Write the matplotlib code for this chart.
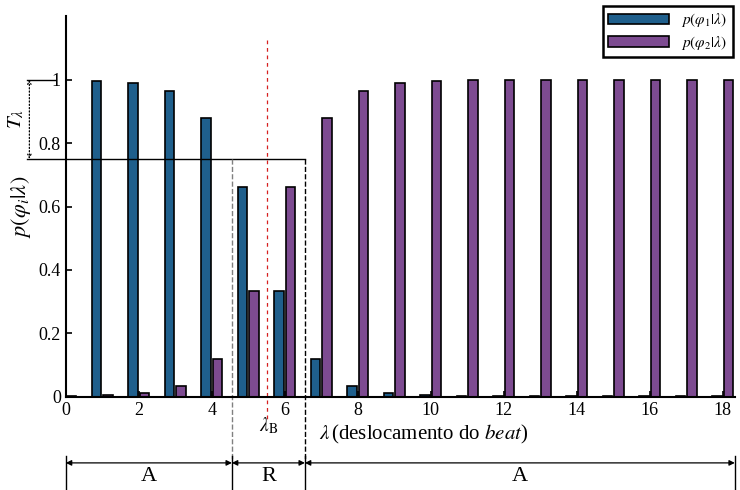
import matplotlib
matplotlib.use('Agg')
import matplotlib.pyplot as plt
import numpy as np

plt.rcParams['font.family'] = ['Liberation Serif', 'DejaVu Serif']
plt.rcParams['mathtext.fontset'] = 'stix'

# probabilities for each beat displacement lambda = 0..18
lambdas = np.arange(0, 19)
p_phi1 = [0.004, 0.995, 0.99, 0.965, 0.88, 0.66, 0.335, 0.12, 0.035, 0.012,
          0.005, 0.003, 0.003, 0.003, 0.003, 0.003, 0.003, 0.003, 0.003]
p_phi2 = [0.004, 0.005, 0.012, 0.035, 0.12, 0.335, 0.66, 0.88, 0.965, 0.99,
          0.995, 0.998, 0.998, 0.998, 0.998, 0.998, 0.998, 0.998, 0.998]

threshold = 0.75
region_edges = [0, 4.55, 6.55, 18.33]
region_labels = ['A', 'R', 'A']
lambda_b = 5.5

blue = '#1f5f8c'
purple = '#7d4b91'

fig = plt.figure(figsize=(7.4, 4.9), dpi=100)
ax = fig.add_axes([0.089, 0.19, 0.904, 0.777])

w = 0.26
ax.bar(lambdas - 0.16, p_phi1, width=w, color=blue, edgecolor='black', linewidth=1.2,
       label=r'$p(\varphi_1|\lambda)$')
ax.bar(lambdas + 0.16, p_phi2, width=w, color=purple, edgecolor='black', linewidth=1.2,
       label=r'$p(\varphi_2|\lambda)$')

ax.set_xlim(0, 18.33)
ax.set_ylim(0, 1.2)
ax.set_xticks(range(0, 19, 2))
ax.set_yticks([0, 0.2, 0.4, 0.6, 0.8, 1])
ax.set_yticklabels(['0', '0.2', '0.4', '0.6', '0.8', '1'])
ax.tick_params(direction='in', labelsize=13, width=1.2, length=4)
for s in ['top', 'right']:
    ax.spines[s].set_visible(False)
ax.spines['left'].set_linewidth(1.5)
ax.spines['bottom'].set_linewidth(1.5)

ax.set_ylabel(r'$p(\varphi_i|\lambda)$', fontsize=16, labelpad=4)
ax.text(9.8, -0.12, r'$\lambda\,$(deslocamento do $\it{beat}$)', fontsize=15,
        ha='center', va='center')

# threshold annotation
ax.plot([-1.07, region_edges[2]], [threshold, threshold], color='black', lw=1, clip_on=False)
ax.plot([-1.07, -0.3], [1, 1], color='black', lw=1, clip_on=False)
ax.annotate('', xy=(-1.0, threshold), xytext=(-1.0, 1), annotation_clip=False,
            arrowprops=dict(arrowstyle='<->', linestyle=':', lw=0.9, color='black',
                            shrinkA=0, shrinkB=0, mutation_scale=6))
ax.text(-1.35, 0.875, r'$T_\lambda$', rotation=90, fontsize=15, ha='center', va='center')

# region boundaries
ax.plot([region_edges[1]] * 2, [threshold, -0.2], color='gray', lw=1, ls='--', clip_on=False)
ax.plot([region_edges[2]] * 2, [threshold, -0.2], color='black', lw=1, ls='--', clip_on=False)
ax.plot([lambda_b] * 2, [1.126, -0.073], color='#d62020', lw=0.9, ls=(0, (3, 3)), clip_on=False)
ax.text(lambda_b + 0.05, -0.092, r'$\lambda_{\rm B}$', fontsize=14, ha='center', va='center')

for x in region_edges:
    ax.plot([x, x], [-0.185, -0.295], color='black', lw=1, clip_on=False)
for i, lab in enumerate(region_labels):
    a, b = region_edges[i], region_edges[i + 1]
    ax.annotate('', xy=(a, -0.208), xytext=(b, -0.208), annotation_clip=False,
                arrowprops=dict(arrowstyle='<|-|>', lw=0.9, color='black',
                                shrinkA=0, shrinkB=0, mutation_scale=8))
    ax.text((a + b) / 2, -0.252, lab, fontsize=16, ha='center', va='center')

leg = ax.legend(loc='upper right', bbox_to_anchor=(1.008, 1.047), fontsize=11,
                handlelength=4.0, fancybox=False, edgecolor='black', framealpha=1,
                borderpad=0.35, labelspacing=0.3)
leg.get_frame().set_linewidth(1.8)

fig.savefig('out.png', dpi=100)
